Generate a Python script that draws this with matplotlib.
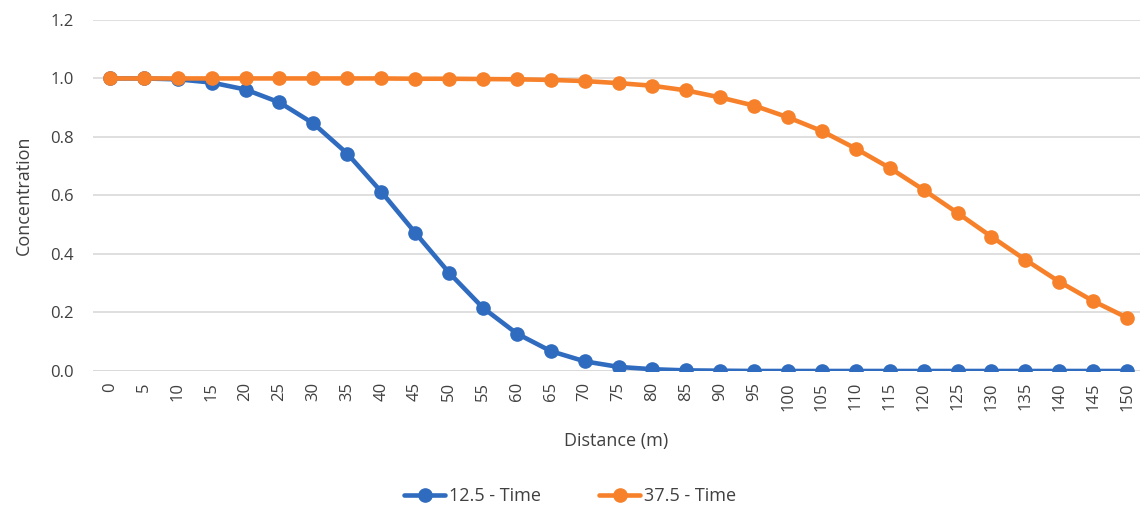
import numpy as np
import matplotlib.pyplot as plt

plt.rcParams['font.family'] = ['Open Sans', 'DejaVu Sans']

distance = list(range(0, 155, 5))
time_12_5 = [1.0, 1.0, 0.997, 0.986, 0.962, 0.918, 0.846, 0.743, 0.613, 0.473,
             0.336, 0.216, 0.128, 0.068, 0.033, 0.014, 0.006, 0.002, 0.001, 0.0,
             0.0, 0.0, 0.0, 0.0, 0.0, 0.0, 0.0, 0.0, 0.0, 0.0, 0.0]
time_37_5 = [1.0, 1.0, 1.0, 1.0, 1.0, 1.0, 1.0, 1.0, 1.0, 0.999,
             0.999, 0.998, 0.997, 0.995, 0.991, 0.984, 0.975, 0.959, 0.935, 0.907,
             0.867, 0.820, 0.760, 0.694, 0.619, 0.540, 0.459, 0.380, 0.305, 0.239, 0.182]

grey = '#404040'
fig = plt.figure(figsize=(11.4, 5.11), dpi=100)
ax = fig.add_axes([0.0816, 0.274, 0.9184, 0.687])

idx = np.arange(len(distance))
ax.plot(idx, time_12_5, color='#2f6bbf', lw=3.3, marker='o', ms=9.5,
        label='12.5 - Time', solid_capstyle='round', zorder=3)
ax.plot(idx, time_37_5, color='#f7812a', lw=3.3, marker='o', ms=9.5,
        label='37.5 - Time', solid_capstyle='round', zorder=3)

ax.set_xlim(-0.5, 30.38)
ax.set_ylim(0, 1.2)
ax.set_yticks(np.arange(0, 1.21, 0.2))
ax.set_yticklabels([f'{v:.1f}' for v in np.arange(0, 1.21, 0.2)])
ax.set_xticks(idx)
ax.set_xticklabels([str(d) for d in distance], rotation=90)
ax.tick_params(length=0, labelsize=12, colors=grey, pad=8)
ax.tick_params(axis='y', pad=14)
ax.yaxis.grid(True, color='#d9d9d9', lw=1.2)
ax.set_axisbelow(True)
for s in ax.spines.values():
    s.set_visible(False)
ax.axhline(0, color='#d9d9d9', lw=1.2, zorder=1)

ax.set_xlabel('Distance (m)', fontsize=13, color=grey, labelpad=15)
ax.set_ylabel('Concentration', fontsize=13, color=grey, labelpad=12)

fig.legend(loc='lower center', bbox_to_anchor=(0.5, -0.02), ncol=2, frameon=False,
           fontsize=13, handlelength=2.3, columnspacing=3.2, handletextpad=0.2,
           labelcolor=grey)

fig.savefig('out.png', dpi=100)
